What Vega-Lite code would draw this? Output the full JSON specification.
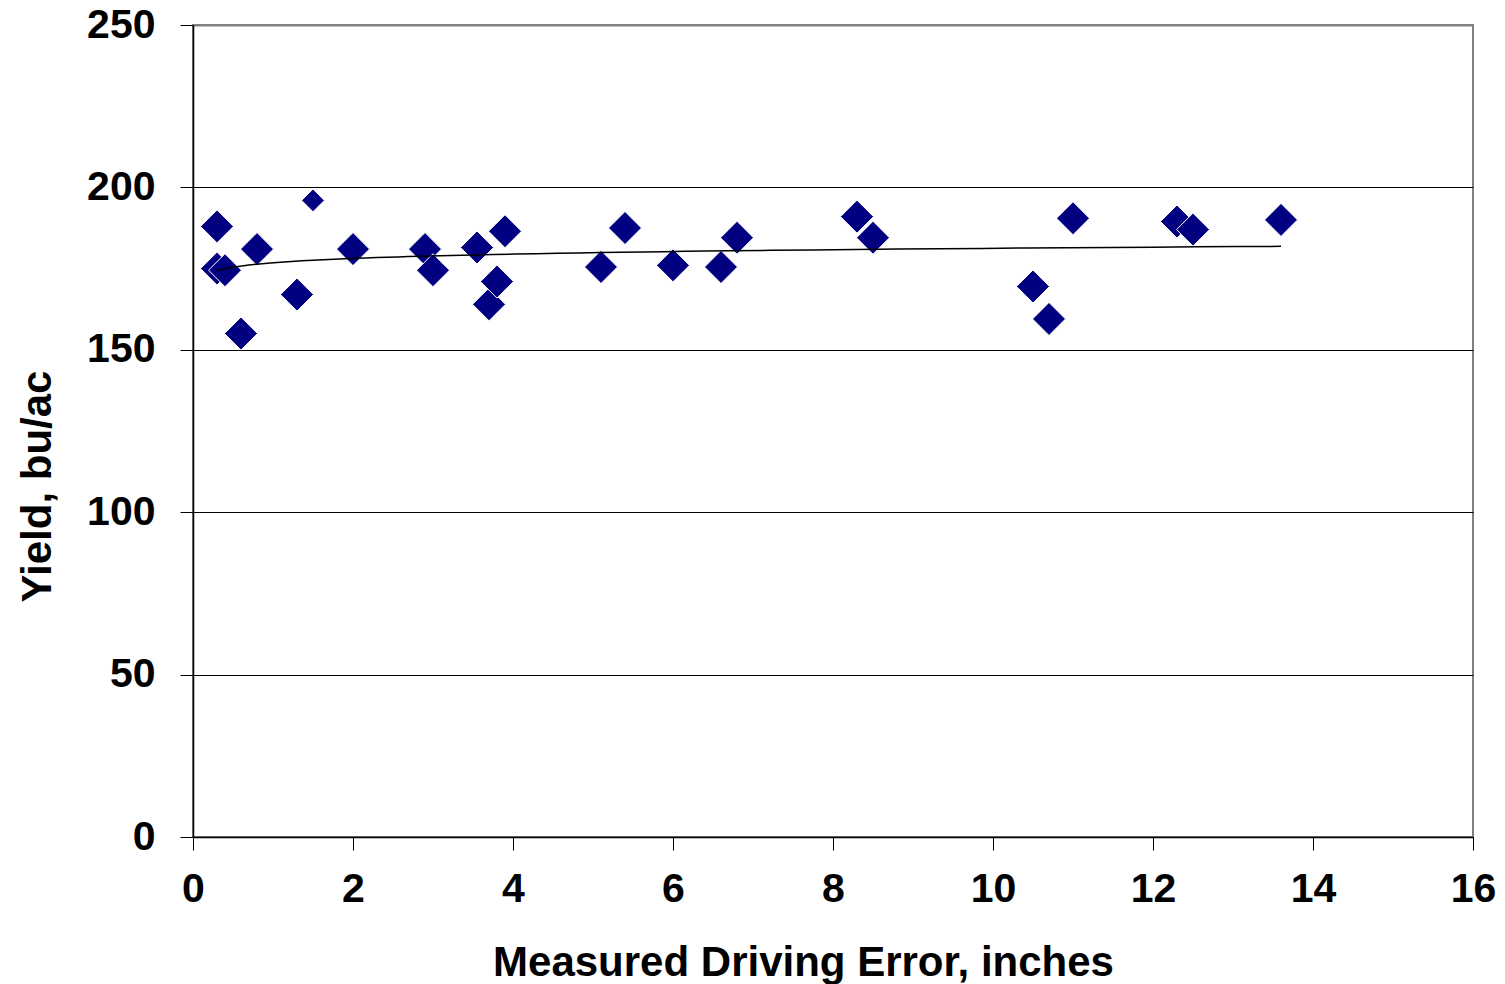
{
  "$schema": "https://vega.github.io/schema/vega-lite/v6.json",
  "autosize": "none",
  "padding": {"left": 193, "top": 25, "right": 32, "bottom": 147},
  "width": 1280,
  "height": 812,
  "background": "white",
  "config": {
    "view": {"stroke": "#808080", "strokeWidth": 2},
    "axis": {
      "labelFont": "Liberation Sans",
      "labelFontWeight": "bold",
      "labelFontSize": 41,
      "labelColor": "#000",
      "labelFlush": false,
      "labelOverlap": false,
      "titleFont": "Liberation Sans",
      "titleFontWeight": "bold",
      "titleFontSize": 42,
      "titleColor": "#000",
      "domainColor": "#000",
      "domainWidth": 1.5,
      "tickColor": "#000",
      "tickWidth": 1,
      "tickSize": 13
    }
  },
  "data": {
    "values": [
      {"x": 0.3, "y": 188},
      {"x": 0.3, "y": 175},
      {"x": 0.4, "y": 174.5},
      {"x": 0.6, "y": 155},
      {"x": 0.8, "y": 181},
      {"x": 1.3, "y": 167},
      {"x": 1.5, "y": 196},
      {"x": 2.0, "y": 181},
      {"x": 2.9, "y": 181},
      {"x": 3.0, "y": 174.5},
      {"x": 3.55, "y": 181.5},
      {"x": 3.7, "y": 164},
      {"x": 3.8, "y": 171},
      {"x": 3.9, "y": 186.5},
      {"x": 5.1, "y": 175.5},
      {"x": 5.4, "y": 187.5},
      {"x": 6.0, "y": 176},
      {"x": 6.6, "y": 175.5},
      {"x": 6.8, "y": 184.5},
      {"x": 8.3, "y": 191},
      {"x": 8.5, "y": 184.5},
      {"x": 10.5, "y": 169.5},
      {"x": 10.7, "y": 159.5},
      {"x": 11.0, "y": 190.5},
      {"x": 12.3, "y": 189.5},
      {"x": 12.5, "y": 187},
      {"x": 13.6, "y": 190}
    ]
  },
  "encoding": {
    "x": {
      "field": "x",
      "type": "quantitative",
      "scale": {"domain": [0, 16], "nice": false, "zero": false},
      "axis": {
        "title": "Measured Driving Error, inches",
        "values": [0, 2, 4, 6, 8, 10, 12, 14, 16],
        "grid": false,
        "labelPadding": 19,
        "titleBaseline": "alphabetic",
        "titleAlign": "center",
        "titleX": 610,
        "titleY": 138
      }
    },
    "y": {
      "field": "y",
      "type": "quantitative",
      "scale": {"domain": [0, 250], "nice": false},
      "axis": {
        "title": "Yield, bu/ac",
        "values": [0, 50, 100, 150, 200, 250],
        "grid": true,
        "gridColor": {"condition": {"test": "datum.value == 250", "value": "#808080"}, "value": "#000"},
        "gridWidth": {"condition": {"test": "datum.value == 250", "value": 2}, "value": 1},
        "labelPadding": 25,
        "titleBaseline": "alphabetic",
        "titleAlign": "center",
        "titleAngle": -90,
        "titleX": -143,
        "titleY": 461
      }
    }
  },
  "layer": [
    {
      "mark": {"type": "point", "shape": "diamond", "filled": true, "color": "#000080", "opacity": 1, "stroke": "white", "strokeWidth": 1},
      "encoding": {
        "size": {"condition": {"test": "datum.x == 1.5", "value": 515}, "value": 1089}
      }
    },
    {
      "transform": [{"regression": "y", "on": "x", "method": "log"}],
      "mark": {"type": "line", "color": "#000", "strokeWidth": 1.5},
      "encoding": {}
    }
  ]
}
